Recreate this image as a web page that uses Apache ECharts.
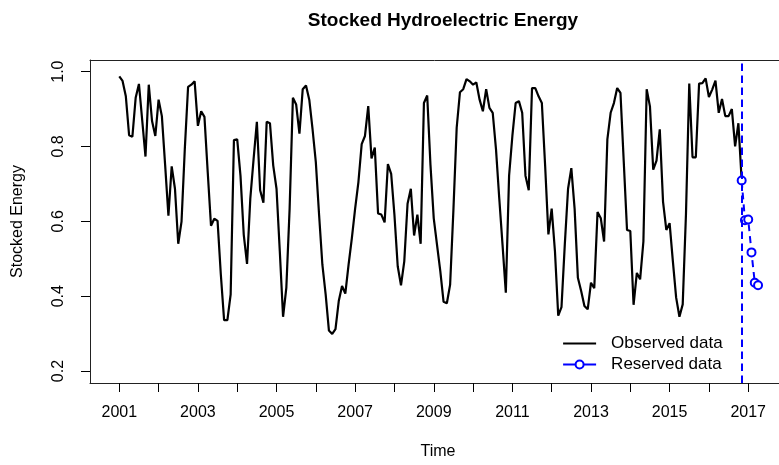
<!DOCTYPE html>
<html>
<head>
<meta charset="utf-8">
<script src="https://cdn.jsdelivr.net/npm/echarts@6/dist/echarts.min.js"></script>
<style>
html,body{margin:0;padding:0;background:#fff;}
#chart{width:779px;height:465px;}
</style>
</head>
<body>
<div id="chart"></div>
<script>
// ---- data ----
const startYear = 2001;           // first month of observed series (Jan 2001)
const monthsPerYear = 12;
const observed = [
  0.987,0.975,0.934,0.830,0.826,0.930,0.967,0.870,0.773,0.965,0.868,0.828,
  0.925,0.881,0.750,0.615,0.747,0.687,0.540,0.599,0.793,0.959,0.965,0.974,
  0.855,0.894,0.879,0.731,0.588,0.607,0.601,0.458,0.336,0.336,0.405,0.817,
  0.819,0.722,0.564,0.486,0.661,0.766,0.866,0.683,0.650,0.866,0.862,0.749,
  0.687,0.520,0.345,0.423,0.634,0.930,0.912,0.834,0.953,0.963,0.925,0.846,
  0.758,0.617,0.484,0.405,0.308,0.299,0.312,0.387,0.427,0.407,0.484,0.555,
  0.634,0.705,0.806,0.828,0.908,0.768,0.797,0.621,0.618,0.597,0.753,0.727,
  0.617,0.480,0.429,0.493,0.647,0.687,0.562,0.618,0.540,0.916,0.936,0.750,
  0.608,0.537,0.467,0.385,0.381,0.431,0.630,0.850,0.945,0.953,0.980,0.974,
  0.965,0.971,0.925,0.894,0.953,0.903,0.890,0.793,0.661,0.537,0.409,0.722,
  0.828,0.916,0.921,0.890,0.722,0.683,0.956,0.956,0.934,0.916,0.749,0.565,
  0.634,0.520,0.348,0.371,0.537,0.687,0.742,0.634,0.449,0.414,0.374,0.365,
  0.436,0.421,0.625,0.608,0.546,0.819,0.890,0.916,0.956,0.943,0.760,0.577,
  0.574,0.377,0.462,0.445,0.546,0.953,0.907,0.738,0.762,0.846,0.652,0.577,
  0.595,0.493,0.396,0.345,0.378,0.620,0.968,0.771,0.771,0.968,0.969,0.982,
  0.932,0.952,0.976,0.890,0.927,0.881,0.881,0.900,0.800,0.862,0.709
];
const reservedStart = 2016 + 10/12; // Nov 2016
const reserved = [0.709,0.603,0.605,0.517,0.436,0.429];
const cutTime = 2016 + 10/12;
const xTickValues = [2001,2002,2003,2004,2005,2006,2007,2008,2009,2010,2011,2012,2013,2014,2015,2016,2017];
const xLabelValues = [2001,2003,2005,2007,2009,2011,2013,2015,2017];
const yTickValues = [0.2,0.4,0.6,0.8,1.0];
const seriesNames = ['Observed data','Reserved data'];

const obsData = observed.map((v,i)=>[startYear + i/monthsPerYear, v]);
const resData = reserved.map((v,i)=>[reservedStart + i/monthsPerYear, v]);

const FONT = "'Liberation Sans', Arial, Helvetica, sans-serif";
const X_MIN = 2000.255, X_MAX = 2017.783;
const chart = echarts.init(document.getElementById('chart'), null, {renderer:'canvas'});
chart.setOption({
  animation: false,
  backgroundColor: '#fff',
  textStyle: {fontFamily: FONT, color:'#000'},
  title: {
    text: 'Stocked Hydroelectric Energy',
    left: 438, top: 6, textAlign: 'center',
    textStyle: {fontFamily: FONT, fontSize: 19, fontWeight: 'bold', color:'#000'}
  },
  grid: {left: 90, top: 60, right: 0, bottom: 79, show: false, containLabel: false},
  xAxis: [{
    type: 'value', min: X_MIN, max: X_MAX, position: 'bottom',
    name: 'Time', nameLocation: 'middle', nameGap: 61,
    nameTextStyle: {fontFamily: FONT, fontSize: 16, color:'#000', padding:[0,0,0,7]},
    axisLine: {show: true, lineStyle:{color:'#222', width:1}},
    axisTick: {show: true, length: 9, inside: false, customValues: xTickValues, lineStyle:{color:'#000', width:1}},
    axisLabel: {show: true, customValues: xLabelValues, margin: 22, fontSize: 16, color:'#000', fontFamily: FONT, formatter: v=>String(Math.round(v))},
    splitLine: {show: false}
  },{
    type: 'value', min: X_MIN, max: X_MAX, position: 'top',
    axisLine: {show: true, lineStyle:{color:'#222', width:1}},
    axisTick: {show: false}, axisLabel: {show: false}, splitLine: {show: false}
  }],
  yAxis: {
    type: 'value', min: 0.168, max: 1.031,
    name: 'Stocked Energy', nameLocation: 'middle', nameGap: 64,
    nameTextStyle: {fontFamily: FONT, fontSize: 16, color:'#000'},
    axisLine: {show: true, lineStyle:{color:'#222', width:1}},
    axisTick: {show: true, length: 9, inside: false, customValues: yTickValues, lineStyle:{color:'#000', width:1}},
    axisLabel: {show: true, customValues: yTickValues, rotate: 90, margin: 23, fontSize: 16, color:'#000', fontFamily: FONT, formatter: v=>v.toFixed(1)},
    splitLine: {show: false}
  },
  legend: {
    orient: 'vertical', left: 562, top: 335, padding: 0,
    itemWidth: 33, itemHeight: 10, itemGap: 4,
    textStyle: {fontFamily: FONT, fontSize: 17, color:'#000', padding:[0,0,0,10]},
    data: [
      {name: seriesNames[0], itemStyle: {opacity: 0}, lineStyle: {color:'#000', width: 2.2}},
      {name: seriesNames[1], lineStyle: {type:'solid', color:'#0000ff', width: 2}}
    ]
  },
  series: [
    {
      name: seriesNames[0], type: 'line', data: obsData, xAxisIndex: 0,
      symbol: 'none', lineStyle: {color:'#000', width: 2.2}, itemStyle:{color:'#000'}, z: 2
    },
    {
      name: seriesNames[1], type: 'line', data: resData, xAxisIndex: 0,
      symbol: 'emptyCircle', symbolSize: 8, showAllSymbol: true,
      lineStyle: {color:'#0000ff', width: 2, type: [7,5]},
      itemStyle: {color:'#0000ff', borderColor:'#0000ff', borderWidth: 2},
      z: 3,
      markLine: {
        silent: true, symbol: ['none','none'], label:{show:false},
        lineStyle: {color:'#0000ff', width: 2, type: [7.5,4.5]},
        data: [{xAxis: cutTime}]
      }
    }
  ]
});
</script>
</body>
</html>
